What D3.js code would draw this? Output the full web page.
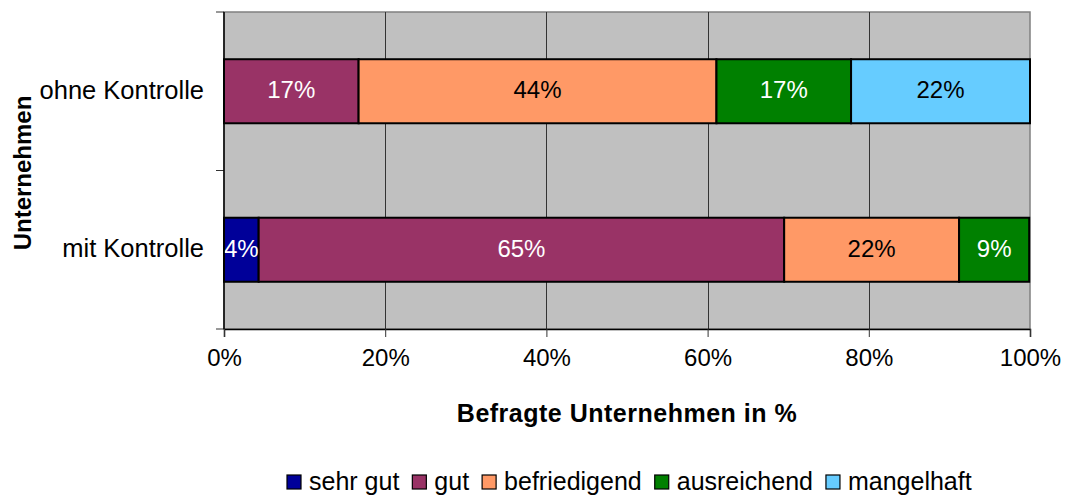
<!DOCTYPE html>
<html lang="de">
<head>
<meta charset="UTF-8">
<title>Kontrolle</title>
<script src="https://d3js.org/d3.v7.min.js"></script>
<style>
  body { margin: 0; background: #fff; }
  text { font-family: "Liberation Sans", Arial, sans-serif; }
</style>
</head>
<body>
<div id="chart"></div>
<script>
// data
const categories = ["ohne Kontrolle", "mit Kontrolle"];
const ratings = ["sehr gut", "gut", "befriedigend", "ausreichend", "mangelhaft"];
const ohneKontrolle = [0, 16.7, 44.4, 16.7, 22.2];
const mitKontrolle = [4.3, 65.2, 21.7, 8.7, 0];
const xTicks = [0, 20, 40, 60, 80, 100];
const colors = ["#000099", "#993366", "#FF9966", "#008000", "#66CCFF"];
const labelColors = ["#fff", "#fff", "#000", "#fff", "#000"];

const W = 1066, H = 497;
const margin = { top: 12, right: 36, bottom: 168, left: 224 };
const width = W - margin.left - margin.right;
const height = H - margin.top - margin.bottom;

const rows = categories.map((c, i) => {
    const r = { cat: c };
    const vals = i === 0 ? ohneKontrolle : mitKontrolle;
    ratings.forEach((k, j) => r[k] = vals[j]);
    return r;
});
const series = d3.stack().keys(ratings)(rows);

const svg = d3.select("#chart").append("svg")
    .attr("width", W).attr("height", H);
const g = svg.append("g")
    .attr("transform", "translate(" + margin.left + "," + margin.top + ")");

const x = d3.scaleLinear().domain([0, 100]).range([0, width]);
const y = d3.scaleBand().domain(categories).range([0, height])
    .paddingInner(0.596).paddingOuter(0.298);

// plot background
g.append("rect")
    .attr("width", width).attr("height", height)
    .attr("fill", "#C0C0C0").attr("stroke", "#808080").attr("stroke-width", 1.5);

// vertical grid lines
g.selectAll(".grid").data(xTicks.slice(1, -1)).join("line")
    .attr("x1", d => Math.round(x(d)) + 0.5).attr("x2", d => Math.round(x(d)) + 0.5)
    .attr("y1", 0).attr("y2", height)
    .attr("stroke", "#333").attr("stroke-width", 1);

// bars
g.selectAll(".layer").data(series).join("g")
    .attr("fill", (d, i) => colors[i])
    .selectAll("rect").data(d => d.filter(p => p[1] - p[0] > 0)).join("rect")
    .attr("x", d => x(d[0]))
    .attr("y", d => y(d.data.cat))
    .attr("width", d => x(d[1]) - x(d[0]))
    .attr("height", y.bandwidth())
    .attr("stroke", "#000").attr("stroke-width", 2);

// bar labels
series.forEach((s, i) => {
    g.selectAll(".lbl" + i).data(s.filter(p => p[1] - p[0] > 0)).join("text")
        .attr("x", d => x((d[0] + d[1]) / 2))
        .attr("y", d => y(d.data.cat) + y.bandwidth() / 2)
        .attr("dy", "0.3em")
        .attr("text-anchor", "middle")
        .attr("font-size", 24)
        .attr("fill", labelColors[i])
        .text(d => Math.round(d[1] - d[0]) + "%");
});

// x axis
const xAxis = g.append("g")
    .attr("transform", "translate(0," + height + ")")
    .call(d3.axisBottom(x).tickValues(xTicks).tickFormat(d => d + "%").tickSize(8).tickPadding(12));
xAxis.select(".domain").attr("stroke", "#000").attr("stroke-width", 1.5);
xAxis.selectAll("line").attr("stroke", "#333");
xAxis.selectAll("text").attr("font-size", 24).attr("fill", "#000")
    .style("font-family", "'Liberation Sans', Arial, sans-serif");

// y axis: ticks on band boundaries
const yBounds = [0, height / 2, height];
g.selectAll(".ytick").data(yBounds).join("line")
    .attr("x1", -8).attr("x2", 0)
    .attr("y1", d => d).attr("y2", d => d)
    .attr("stroke", "#333");
g.append("line").attr("x1", 0).attr("x2", 0).attr("y1", 0).attr("y2", height)
    .attr("stroke", "#000").attr("stroke-width", 1.5);
g.selectAll(".ylab").data(categories).join("text")
    .attr("x", -20)
    .attr("y", d => y(d) + y.bandwidth() / 2)
    .attr("dy", "0.3em")
    .attr("text-anchor", "end")
    .attr("font-size", 25.5)
    .text(d => d);

// axis titles
svg.append("text")
    .attr("x", margin.left + width / 2).attr("y", 422)
    .attr("text-anchor", "middle")
    .attr("font-size", 25).attr("font-weight", "bold")
    .attr("letter-spacing", 0.5)
    .text("Befragte Unternehmen in %");
svg.append("text")
    .attr("transform", "translate(31,173) rotate(-90)")
    .attr("text-anchor", "middle")
    .attr("font-size", 24).attr("font-weight", "bold")
    .text("Unternehmen");

// legend
const legend = svg.append("g").attr("transform", "translate(0,481)");
const items = legend.selectAll("g").data(ratings).join("g");
items.append("rect")
    .attr("width", 14).attr("height", 14).attr("y", -6)
    .attr("fill", (d, i) => colors[i])
    .attr("stroke", "#000").attr("stroke-width", 1.2);
items.append("text")
    .attr("x", 22).attr("dy", "0.36em")
    .attr("font-size", 25)
    .text(d => d);
let lx = 0;
const offsets = [];
items.each(function () {
    offsets.push(lx);
    lx += 22 + this.querySelector("text").getComputedTextLength() + 13;
});
const start = 287;
items.attr("transform", (d, i) => "translate(" + (start + offsets[i]) + ",0)");
</script>
</body>
</html>
